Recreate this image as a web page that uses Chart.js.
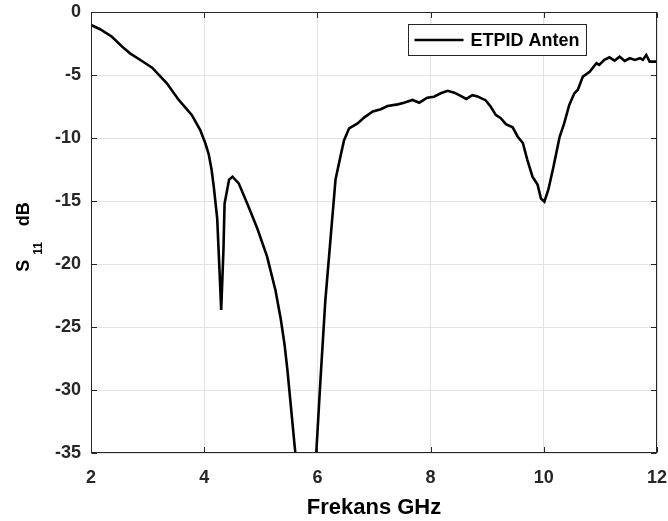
<!DOCTYPE html>
<html>
<head>
<meta charset="utf-8">
<script src="https://cdn.jsdelivr.net/npm/chart.js@4/dist/chart.umd.min.js"></script>
<style>
  html, body { margin: 0; padding: 0; background: #ffffff; }
  #wrap { width: 668px; height: 521px; }
</style>
</head>
<body>
<div id="wrap"><canvas id="c" width="668" height="521"></canvas></div>
<script>
// ---- data ----
const seriesLabel = "ETPID Anten";
const xTitle = "Frekans GHz";
const yTitleMain = "S";
const yTitleSub = "11";
const yTitleUnit = "dB";
const xTicks = [2, 4, 6, 8, 10, 12];
const yTicks = [0, -5, -10, -15, -20, -25, -30, -35];

const freqGHz = [2.00, 2.16, 2.37, 2.55, 2.69, 2.90, 3.08, 3.34, 3.55, 3.78, 3.93, 4.02, 4.08, 4.13, 4.17, 4.23, 4.28, 4.30,
  4.34, 4.36, 4.44, 4.50, 4.61, 4.76, 4.94, 5.11, 5.26, 5.35, 5.42, 5.47, 5.61, 5.75, 5.85, 5.93, 5.98, 6.05, 6.14,
  6.32, 6.42, 6.47, 6.56, 6.71, 6.83, 6.98, 7.12, 7.24, 7.42, 7.53, 7.68, 7.80, 7.94, 8.06, 8.18, 8.30, 8.42,
  8.53, 8.63, 8.74, 8.83, 8.90, 8.97, 9.06, 9.15, 9.24, 9.33, 9.45, 9.54, 9.63, 9.71, 9.80, 9.89, 9.95, 10.01,
  10.08, 10.17, 10.28, 10.36, 10.45, 10.54, 10.60, 10.69, 10.81, 10.93, 10.98, 11.07, 11.16, 11.25, 11.34,
  11.43, 11.52, 11.61, 11.70, 11.75, 11.81, 11.87, 12.00];
const s11dB = [-1.03, -1.37, -1.96, -2.75, -3.28, -3.89, -4.42, -5.66, -6.98, -8.17, -9.37, -10.42, -11.3, -12.5, -13.9, -16.4, -21.5, -23.65,
  -18.9, -15.2, -13.3, -13.07, -13.6, -15.2, -17.2, -19.4, -22.1, -24.3, -26.4, -28.4, -35.0, -40.5, -42.0, -39.0, -35.0, -29.5, -22.9,
  -13.3, -11.2, -10.2, -9.23, -8.84, -8.36, -7.9, -7.72, -7.46, -7.33, -7.2, -6.98, -7.2, -6.8, -6.72, -6.45, -6.25, -6.4,
  -6.65, -6.9, -6.6, -6.7, -6.85, -7.0, -7.5, -8.17, -8.43, -8.9, -9.15, -9.9, -10.4, -11.75, -13.07, -13.7, -14.8, -15.05,
  -14.1, -12.3, -9.9, -8.84, -7.38, -6.45, -6.19, -5.13, -4.74, -4.07, -4.2, -3.8, -3.6, -3.86, -3.55,
  -3.89, -3.67, -3.8, -3.67, -3.8, -3.41, -3.94, -3.94];

const points = freqGHz.map((f, i) => ({ x: f, y: s11dB[i] }));

const AX = '#262626';
const FONT = "'Liberation Sans', Arial, Helvetica, sans-serif";

const decorPlugin = {
  id: 'decor',
  afterDraw(chart) {
    const ctx = chart.ctx;
    const a = chart.chartArea;
    const xs = chart.scales.x, ys = chart.scales.y;
    ctx.save();
    // box
    ctx.strokeStyle = AX;
    ctx.lineWidth = 1;
    const L = Math.round(a.left) + 0.5, R = Math.round(a.right) - 0.5;
    const T = Math.round(a.top) + 0.5, B = Math.round(a.bottom) - 0.5;
    ctx.strokeRect(L, T, R - L, B - T);
    // inward ticks
    const tl = 5.5;
    ctx.beginPath();
    xTicks.forEach(v => {
      const px = Math.round(xs.getPixelForValue(v)) + 0.5;
      ctx.moveTo(px, B); ctx.lineTo(px, B - tl);
      ctx.moveTo(px, T); ctx.lineTo(px, T + tl);
    });
    yTicks.forEach(v => {
      const py = Math.round(ys.getPixelForValue(v)) + 0.5;
      ctx.moveTo(L, py); ctx.lineTo(L + tl, py);
      ctx.moveTo(R, py); ctx.lineTo(R - tl, py);
    });
    ctx.stroke();

    // y title with subscript
    ctx.fillStyle = '#000000';
    ctx.textBaseline = 'alphabetic';
    ctx.textAlign = 'left';
    const mainFont = "bold 18px " + FONT;
    const subFont = "bold 12px " + FONT;
    ctx.font = mainFont;
    const wS = ctx.measureText(yTitleMain).width;
    const wUnit = ctx.measureText(yTitleUnit).width;
    ctx.font = subFont;
    const wSub = ctx.measureText(yTitleSub).width;
    const gap1 = 5, gap2 = 16;
    const total = wS + gap1 + wSub + gap2 + wUnit;
    const cy = (a.top + a.bottom) / 2 + 4.5;
    ctx.rotate(-Math.PI / 2);
    let tx = -(cy + total / 2);
    const base = 28.5;
    ctx.font = mainFont;
    ctx.fillText(yTitleMain, tx, base);
    tx += wS + gap1;
    ctx.font = subFont;
    ctx.fillText(yTitleSub, tx, base + 13);
    tx += wSub + gap2;
    ctx.font = mainFont;
    ctx.fillText(yTitleUnit, tx, base);
    ctx.setTransform(1, 0, 0, 1, 0, 0);

    // legend box
    const bx = Math.round(a.right - 249) + 0.5, by = 24.5, lw = 178, lh = 31;
    ctx.fillStyle = '#ffffff';
    ctx.fillRect(bx, by, lw, lh);
    ctx.strokeStyle = AX;
    ctx.lineWidth = 1;
    ctx.strokeRect(bx, by, lw, lh);
    const ds = chart.data.datasets[0];
    ctx.strokeStyle = ds.borderColor;
    ctx.lineWidth = ds.borderWidth;
    ctx.beginPath();
    ctx.moveTo(bx + 6, by + lh / 2);
    ctx.lineTo(bx + 55, by + lh / 2);
    ctx.stroke();
    ctx.fillStyle = '#000000';
    ctx.font = "bold 18px " + FONT;
    ctx.textBaseline = 'middle';
    ctx.fillText(ds.label, bx + 62, by + lh / 2 + 1);
    ctx.restore();
  }
};

new Chart(document.getElementById('c'), {
  type: 'line',
  data: {
    datasets: [{
      label: seriesLabel,
      data: points,
      borderColor: '#000000',
      backgroundColor: '#000000',
      borderWidth: 2.6,
      pointRadius: 0,
      tension: 0,
      fill: false,
      clip: 0
    }]
  },
  options: {
    responsive: false,
    animation: false,
    events: [],
    layout: { padding: { top: 12, right: 11, left: 0, bottom: 0 } },
    plugins: {
      legend: { display: false },
      tooltip: { enabled: false }
    },
    scales: {
      x: {
        type: 'linear',
        min: 2, max: 12,
        afterBuildTicks: s => { s.ticks = xTicks.map(v => ({ value: v })); },
        afterFit: s => { s.height = 68; s.paddingLeft = 0; s.paddingRight = 0; },
        ticks: {
          color: AX,
          font: { family: FONT, size: 18, weight: 'bold' },
          padding: 14,
          maxRotation: 0
        },
        grid: { color: '#e3e3e3', lineWidth: 1, drawTicks: false },
        border: { display: false },
        title: {
          display: true,
          text: xTitle,
          color: '#000000',
          font: { family: FONT, size: 22, weight: 'bold' },
          padding: { top: 0, bottom: 0 }
        }
      },
      y: {
        type: 'linear',
        min: -35, max: 0,
        afterBuildTicks: s => { s.ticks = yTicks.map(v => ({ value: v })); },
        afterFit: s => { s.width = 91; s.paddingTop = 0; s.paddingBottom = 0; },
        ticks: {
          color: AX,
          font: { family: FONT, size: 18, weight: 'bold' },
          padding: 10
        },
        grid: { color: '#e3e3e3', lineWidth: 1, drawTicks: false },
        border: { display: false }
      }
    }
  },
  plugins: [decorPlugin]
});
</script>
</body>
</html>
